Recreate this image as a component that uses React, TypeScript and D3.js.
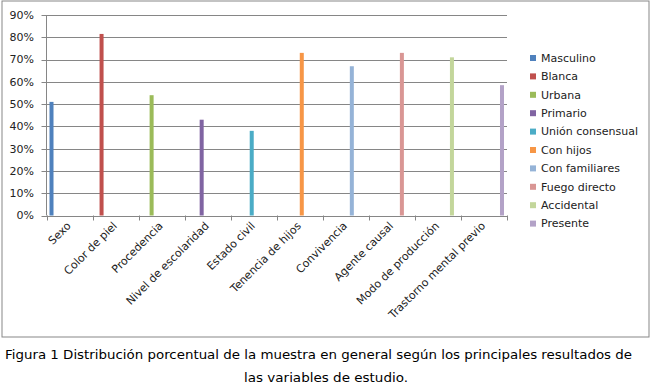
import React from 'react';
import * as d3 from 'd3';

const categories = ['Sexo', 'Color de piel', 'Procedencia', 'Nivel de escolaridad', 'Estado civil',
  'Tenencia de hijos', 'Convivencia', 'Agente causal', 'Modo de producción', 'Trastorno mental previo'];
const series = ['Masculino', 'Blanca', 'Urbana', 'Primario', 'Unión consensual',
  'Con hijos', 'Con familiares', 'Fuego directo', 'Accidental', 'Presente'];
// each series has a value only in its own category
const values = [0.51, 0.815, 0.54, 0.43, 0.38, 0.73, 0.67, 0.73, 0.71, 0.585];
const colors = ['#4F81BD', '#C0504D', '#9BBB59', '#8064A2', '#4BACC6',
  '#F79646', '#95B3D7', '#D99694', '#C3D69B', '#B3A2C7'];
const yTicks = [0, 0.1, 0.2, 0.3, 0.4, 0.5, 0.6, 0.7, 0.8, 0.9];
const caption = ['Figura 1 Distribución porcentual de la muestra en general según los principales resultados de',
  'las variables de estudio.'];

const W = 653, H = 384;
const plot = { left: 46.5, right: 507, top: 15, bottom: 215.5 };
const font = 'Verdana, "DejaVu Sans", sans-serif';

export default function App() {
  const x0 = d3.scaleBand().domain(categories).range([plot.left, plot.right]).padding(0);
  const x1 = d3.scaleBand().domain(series).range([0, x0.bandwidth()]).paddingInner(0).paddingOuter(0.75);
  const y = d3.scaleLinear().domain([0, 0.9]).range([plot.bottom, plot.top]);
  const fmt = d3.format('.0%');
  const color = d3.scaleOrdinal<string, string>().domain(series).range(colors);

  return (
    <svg width={W} height={H} style={{ position: 'absolute', left: 0, top: 0, background: '#fff' }}
      fontFamily={font}>
      <rect x={2} y={1} width={647} height={336} fill="#fff" stroke="#878787" strokeWidth={1} />

      {/* gridlines and y axis */}
      {yTicks.map(t => (
        <g key={t}>
          <line x1={plot.left - 5} x2={plot.right} y1={Math.round(y(t)) + 0.5} y2={Math.round(y(t)) + 0.5}
            stroke="#868686" strokeWidth={1} />
          <text x={34} y={y(t)} dy="0.35em" textAnchor="end" fontSize={11} fill="#222">{fmt(t)}</text>
        </g>
      ))}
      <line x1={plot.left} x2={plot.left} y1={plot.top} y2={plot.bottom} stroke="#868686" />

      {/* x axis ticks */}
      {[...categories.map(c => x0(c)!), plot.right].map((tx, i) => (
        <line key={i} x1={Math.round(tx) + 0.5} x2={Math.round(tx) + 0.5} y1={plot.bottom} y2={plot.bottom + 5}
          stroke="#868686" />
      ))}

      {/* bars */}
      {categories.map((c, i) => (
        <rect key={c} x={x0(c)! + x1(series[i])!} width={x1.bandwidth()}
          y={y(values[i])} height={y(0) - y(values[i])} fill={color(series[i])} />
      ))}

      {/* x labels */}
      {categories.map(c => {
        const cx = x0(c)! + x0.bandwidth() / 2 + 2;
        return (
          <text key={c} transform={`translate(${cx},${plot.bottom + 11}) rotate(-45)`} textAnchor="end"
            fontSize={11} fill="#222">{c}</text>
        );
      })}

      {/* legend */}
      {series.map((s, i) => (
        <g key={s} transform={`translate(530,${58 + i * 18.4})`}>
          <rect x={0} y={-3} width={6} height={6} fill={color(s)} />
          <text x={11} y={0} dy="0.35em" fontSize={11} fill="#222">{s}</text>
        </g>
      ))}

      {/* caption */}
      <text x={318.5} y={359} textAnchor="middle" fontSize={13} fill="#000"
        textLength={627} lengthAdjust="spacingAndGlyphs">{caption[0]}</text>
      <text x={326} y={382} textAnchor="middle" fontSize={13} fill="#000"
        textLength={164} lengthAdjust="spacingAndGlyphs">{caption[1]}</text>
    </svg>
  );
}
